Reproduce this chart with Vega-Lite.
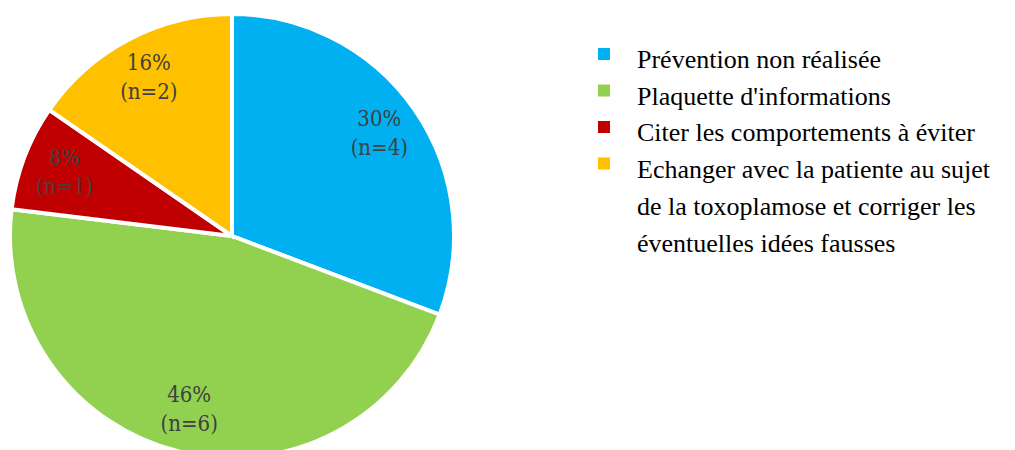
{
  "$schema": "https://vega.github.io/schema/vega-lite/v6.json",
  "width": 464,
  "height": 472,
  "padding": 0,
  "autosize": {"type": "pad"},
  "background": "white",
  "config": {
    "view": {"stroke": null},
    "style": {
      "guide-label": {"dy": -7, "lineHeight": 37, "font": "Liberation Serif", "fontSize": 26, "fill": "#000000"}
    }
  },
  "data": {
    "values": [
      {"cat": "Prévention non réalisée", "n": 4, "order": 1, "label": "30%\n(n=4)"},
      {"cat": "Plaquette d'informations", "n": 6, "order": 2, "label": "46%\n(n=6)"},
      {"cat": "Citer les comportements à éviter", "n": 1, "order": 3, "label": "8%\n(n=1)"},
      {"cat": "Echanger avec la patiente au sujet de la toxoplamose et corriger les éventuelles idées fausses", "n": 2, "order": 4, "label": "16%\n(n=2)"}
    ]
  },
  "encoding": {
    "theta": {"field": "n", "type": "quantitative", "stack": true},
    "order": {"field": "order", "type": "quantitative"}
  },
  "layer": [
    {
      "mark": {"type": "arc", "outerRadius": 222, "stroke": "white", "strokeWidth": 4},
      "encoding": {
        "color": {
          "field": "cat",
          "type": "nominal",
          "sort": null,
          "scale": {
            "domain": [
              "Prévention non réalisée",
              "Plaquette d'informations",
              "Citer les comportements à éviter",
              "Echanger avec la patiente au sujet de la toxoplamose et corriger les éventuelles idées fausses"
            ],
            "range": ["#00B0F0", "#92D050", "#C00000", "#FFC000"]
          },
          "legend": {
            "title": null,
            "orient": "none",
            "legendX": 591,
            "legendY": 41,
            "padding": 0,
            "symbolType": "square",
            "symbolSize": 144,
            "symbolStrokeWidth": 0,
            "symbolOpacity": 1,
            "labelFont": "Liberation Serif",
            "labelFontSize": 26,
            "labelColor": "#000000",
            "labelLimit": 600,
            "labelOffset": 20,
            "labelBaseline": "top",
            "rowPadding": 4.5,
            "labelExpr": "datum.label == 'Echanger avec la patiente au sujet de la toxoplamose et corriger les éventuelles idées fausses' ? ['Echanger avec la patiente au sujet', 'de la toxoplamose et corriger les', 'éventuelles idées fausses'] : datum.label"
          }
        }
      }
    },
    {
      "mark": {
        "type": "text",
        "radius": 179,
        "dy": -15,
        "font": "DejaVu Serif Condensed, Liberation Serif",
        "fontSize": 22,
        "lineHeight": 29,
        "lineBreak": "\n",
        "color": "#404040",
        "align": "center",
        "baseline": "middle"
      },
      "encoding": {
        "text": {"field": "label", "type": "nominal"}
      }
    }
  ]
}
